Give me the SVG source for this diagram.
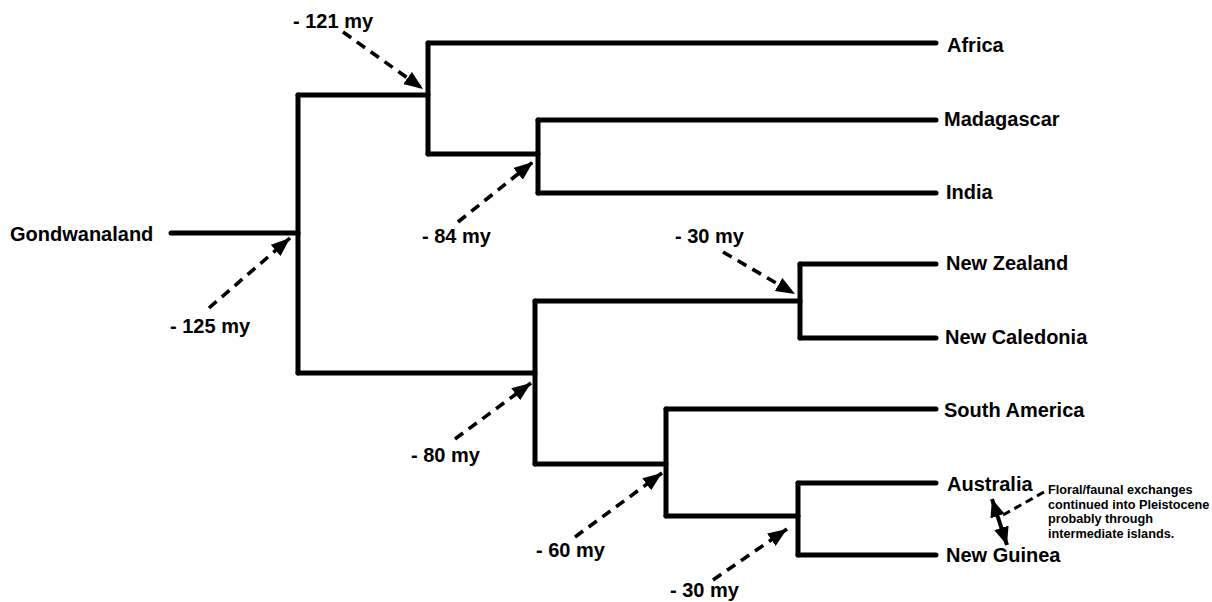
<svg xmlns="http://www.w3.org/2000/svg" width="1212" height="602" viewBox="0 0 1212 602">
<style>
.br{stroke:#000;stroke-width:5;stroke-linecap:round;fill:none}
.da{stroke:#000;stroke-width:3.6;stroke-dasharray:10,7;fill:none;marker-end:url(#ah)}
.lb{font-family:"Liberation Sans",Arial,sans-serif;font-weight:bold;font-size:20px;fill:#000}
.nt{font-family:"Liberation Sans",Arial,sans-serif;font-weight:bold;font-size:12.7px;fill:#000}
</style>
<defs>
<marker id="ah" markerUnits="userSpaceOnUse" markerWidth="20" markerHeight="16" refX="19" refY="7.5" orient="auto" viewBox="0 0 20 16">
<path d="M0,0 L19,7.5 L0,15 z" fill="#000"/>
</marker>
<marker id="ah2" markerUnits="userSpaceOnUse" markerWidth="20" markerHeight="16" refX="18" refY="7.5" orient="auto-start-reverse" viewBox="0 0 20 16">
<path d="M0,0 L18,7.5 L0,15 z" fill="#000"/>
</marker>
</defs>
<rect width="1212" height="602" fill="#fff"/>
<g id="connectors">
<line class="br" x1="171" y1="233" x2="298" y2="233"/>
<line class="br" x1="298" y1="95" x2="298" y2="373"/>
<line class="br" x1="298" y1="95" x2="428" y2="95"/>
<line class="br" x1="428" y1="43" x2="428" y2="154"/>
<line class="br" x1="428" y1="43" x2="936" y2="43"/>
<line class="br" x1="428" y1="154" x2="538" y2="154"/>
<line class="br" x1="538" y1="120" x2="538" y2="193"/>
<line class="br" x1="538" y1="120" x2="936" y2="120"/>
<line class="br" x1="538" y1="193" x2="936" y2="193"/>
<line class="br" x1="298" y1="373" x2="535" y2="373"/>
<line class="br" x1="535" y1="301" x2="535" y2="464"/>
<line class="br" x1="535" y1="301" x2="800" y2="301"/>
<line class="br" x1="800" y1="264" x2="800" y2="338"/>
<line class="br" x1="800" y1="264" x2="936" y2="264"/>
<line class="br" x1="800" y1="338" x2="936" y2="338"/>
<line class="br" x1="535" y1="464" x2="666" y2="464"/>
<line class="br" x1="666" y1="409" x2="666" y2="516"/>
<line class="br" x1="666" y1="409" x2="936" y2="409"/>
<line class="br" x1="666" y1="516" x2="798" y2="516"/>
<line class="br" x1="798" y1="483" x2="798" y2="555"/>
<line class="br" x1="798" y1="483" x2="936" y2="483"/>
<line class="br" x1="798" y1="555" x2="936" y2="555"/>
<line class="da" x1="343" y1="32" x2="423" y2="89"/>
<line class="da" x1="458" y1="222" x2="533" y2="162"/>
<line class="da" x1="209" y1="308" x2="290" y2="238"/>
<line class="da" x1="455" y1="439" x2="531" y2="383"/>
<line class="da" x1="575" y1="537" x2="662" y2="473"/>
<line class="da" x1="723" y1="252" x2="795" y2="294"/>
<line class="da" x1="713" y1="580" x2="787" y2="529"/>
<line x1="992" y1="499" x2="1007" y2="545" stroke="#000" stroke-width="4" marker-start="url(#ah2)" marker-end="url(#ah2)"/>
<line x1="1003" y1="515" x2="1044" y2="492" stroke="#000" stroke-width="3" stroke-dasharray="8,5"/>
</g>
<g id="gondwanaland"><text class="lb" x="10" y="241">Gondwanaland</text></g>
<g id="africa"><text class="lb" x="947" y="52">Africa</text></g>
<g id="madagascar"><text class="lb" x="944" y="126">Madagascar</text></g>
<g id="india"><text class="lb" x="946" y="199">India</text></g>
<g id="new-zealand"><text class="lb" x="946" y="270">New Zealand</text></g>
<g id="new-caledonia"><text class="lb" x="945" y="344">New Caledonia</text></g>
<g id="south-america"><text class="lb" x="944" y="417">South America</text></g>
<g id="australia"><text class="lb" x="947" y="491">Australia</text></g>
<g id="new-guinea"><text class="lb" x="946" y="562">New Guinea</text></g>
<g id="t121"><text class="lb" x="293" y="28">- 121 my</text></g>
<g id="t84"><text class="lb" x="422" y="243">- 84 my</text></g>
<g id="t125"><text class="lb" x="170" y="333">- 125 my</text></g>
<g id="t80"><text class="lb" x="411" y="462">- 80 my</text></g>
<g id="t60"><text class="lb" x="536" y="557">- 60 my</text></g>
<g id="t30a"><text class="lb" x="675" y="243">- 30 my</text></g>
<g id="t30b"><text class="lb" x="670" y="597">- 30 my</text></g>
<g id="note">
<text class="nt" x="1048" y="494">Floral/faunal exchanges</text>
<text class="nt" x="1048" y="509">continued into Pleistocene</text>
<text class="nt" x="1048" y="523">probably through</text>
<text class="nt" x="1048" y="538">intermediate islands.</text>
</g>
</svg>
